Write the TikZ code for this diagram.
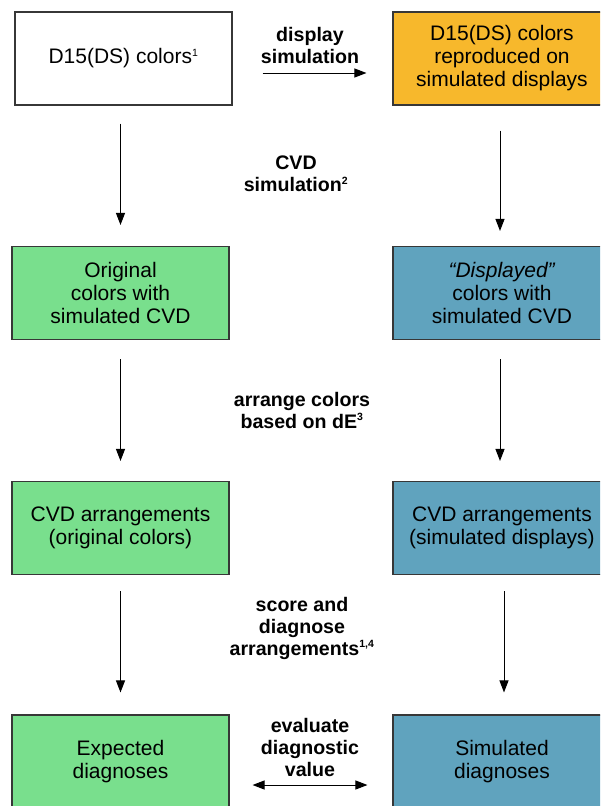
\documentclass[tikz,border=0pt]{standalone}
\usepackage{fontspec}
\setmainfont{Liberation Sans}
\usetikzlibrary{arrows.meta}
\definecolor{boxorange}{RGB}{247,184,44}
\definecolor{boxgreen}{RGB}{121,223,141}
\definecolor{boxblue}{RGB}{96,163,190}
\definecolor{boxline}{RGB}{55,55,55}
\tikzset{
  box/.style={draw=boxline, line width=1.1pt, minimum width=217pt, minimum height=93pt,
    inner sep=0pt, align=center, font=\fontsize{21}{23}\selectfont},
  lbl/.style={align=center, font=\fontsize{19.6}{22}\selectfont\bfseries, inner sep=0pt},
  arr/.style={line width=1pt, -{Triangle[length=12pt,width=9pt]}},
  darr/.style={line width=1pt, {Triangle[length=12pt,width=9pt]}-{Triangle[length=12pt,width=9pt]}}
}
\newcommand{\supr}[1]{\textsuperscript{\fontsize{10.5}{10.5}\selectfont #1}}
\begin{document}
\begin{tikzpicture}[x=1pt,y=-1pt]
\useasboundingbox (0,0) rectangle (600,806);
\begin{scope}
\clip (0,0) rectangle (600,806);
\node[box, fill=white] (b1) at (123.5,58.5) {D15(DS) colors\supr{1}};
\node[box, fill=boxorange, minimum width=218pt] (b2) at (502,58.5) {D15(DS) colors\\reproduced on\\simulated displays};
\node[box, fill=boxgreen] (b3) at (120.5,293) {Original\\colors with\\simulated CVD};
\node[box, fill=boxblue, minimum width=218pt] (b4) at (502,293) {\textit{“Displayed”}\\colors with\\simulated CVD};
\node[box, fill=boxgreen] (b5) at (120.5,528) {CVD arrangements\\(original colors)};
\node[box, fill=boxblue, minimum width=218pt] (b6) at (502,528) {CVD arrangements\\(simulated displays)};
\node[box, fill=boxgreen] (b7) at (120.5,761.5) {Expected\\diagnoses};
\node[box, fill=boxblue, minimum width=218pt] (b8) at (502,761.5) {Simulated\\diagnoses};
\end{scope}
\node[lbl] (l1) at (310,45) {display\\simulation};
\node[lbl] (l2) at (296,174) {CVD\\simulation\supr{2}};
\node[lbl] (l3) at (302,410) {arrange colors\\based on dE\supr{3}};
\node[lbl] (l4) at (302,628) {score and\\diagnose\\arrangements\supr{1,4}};
\node[lbl] (l5) at (310,747) {evaluate\\diagnostic\\value};
\draw[arr, shorten <=30pt, shorten >=26pt] ([yshift=-14.5pt]b1.east) -- ([yshift=-14.5pt]b1.east -| b2.west);
\draw[arr, shorten <=18pt, shorten >=21pt] (b3.north |- b1.south) -- (b3.north);
\draw[arr, shorten <=25pt, shorten >=15pt] ([xshift=-2pt]b2.south) -- ([xshift=-2pt]b4.north);
\draw[arr, shorten <=19pt, shorten >=20pt] (b3.south) -- (b5.north);
\draw[arr, shorten <=19pt, shorten >=20pt] ([xshift=-2pt]b4.south) -- ([xshift=-2pt]b6.north);
\draw[arr, shorten <=16pt, shorten >=22pt] (b5.south) -- (b7.north);
\draw[arr, shorten <=16pt, shorten >=22pt] ([xshift=2pt]b6.south) -- ([xshift=2pt]b8.north);
\draw[darr, shorten <=23pt, shorten >=25pt] ([yshift=-23.5pt]b7.east) -- ([yshift=-23.5pt]b7.east -| b8.west);
\end{tikzpicture}
\end{document}
